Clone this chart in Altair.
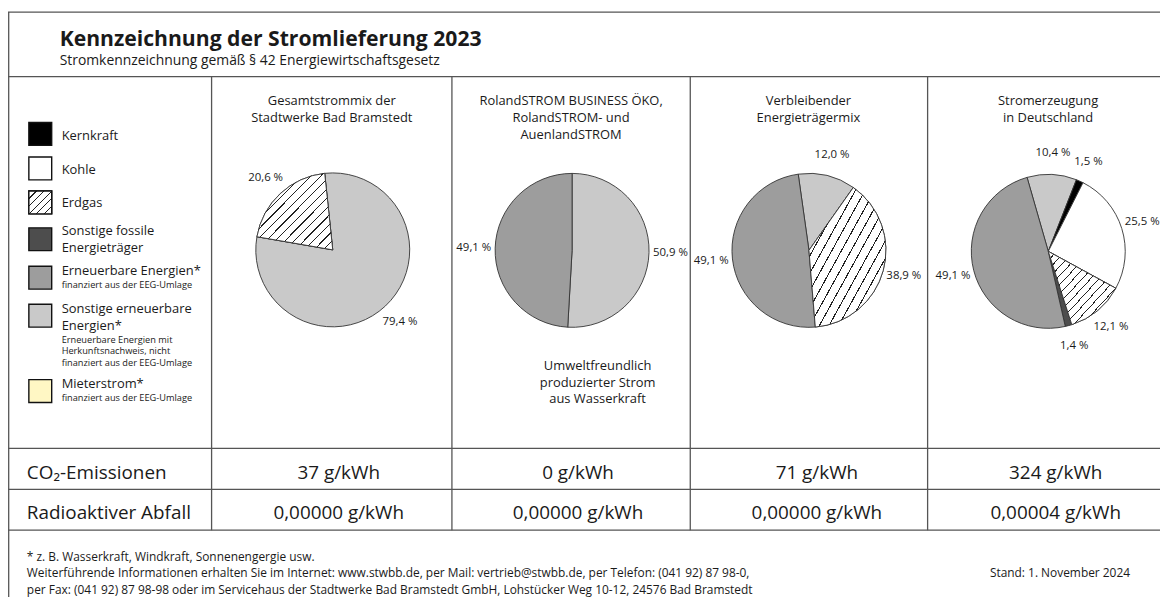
import math
import altair as alt
import pandas as pd

# ---------------- data ----------------
TITLE = "Kennzeichnung der Stromlieferung 2023"
SUBTITLE = "Stromkennzeichnung gemäß § 42 Energiewirtschaftsgesetz"

CATEGORIES = ["Kernkraft", "Kohle", "Erdgas", "Sonstige fossile Energieträger",
              "Erneuerbare Energien", "Sonstige erneuerbare Energien", "Mieterstrom"]
CAT_COLORS = ["#000000", "#ffffff", "#ffffff", "#4d4d4d", "#9d9d9d", "#c9c9c9", "#fff7c4"]

LEGEND_MAIN = [["Kernkraft"], ["Kohle"], ["Erdgas"], ["Sonstige fossile", "Energieträger"],
               ["Erneuerbare Energien*"], ["Sonstige erneuerbare", "Energien*"], ["Mieterstrom*"]]
LEGEND_SMALL = [[], [], [], [], ["finanziert aus der EEG-Umlage"],
                ["Erneuerbare Energien mit", "Herkunftsnachweis, nicht", "finanziert aus der EEG-Umlage"],
                ["finanziert aus der EEG-Umlage"]]

PIE_TITLES = [["Gesamtstrommix der", "Stadtwerke Bad Bramstedt"],
              ["RolandSTROM BUSINESS ÖKO,", "RolandSTROM- und", "AuenlandSTROM"],
              ["Verbleibender", "Energieträgermix"],
              ["Stromerzeugung", "in Deutschland"]]
PIE_CATS = [["Sonstige erneuerbare Energien", "Erdgas"],
            ["Sonstige erneuerbare Energien", "Erneuerbare Energien"],
            ["Sonstige erneuerbare Energien", "Erdgas", "Erneuerbare Energien"],
            ["Sonstige erneuerbare Energien", "Kernkraft", "Kohle", "Erdgas",
             "Sonstige fossile Energieträger", "Erneuerbare Energien"]]
PIE_SHARES = [[79.4, 20.6],
              [50.9, 49.1],
              [12.0, 38.9, 49.1],
              [10.4, 1.5, 25.5, 12.1, 1.4, 49.1]]
ROLAND_NOTE = ["Umweltfreundlich", "produzierter Strom", "aus Wasserkraft"]

ROW_LABELS = ["CO₂-Emissionen", "Radioaktiver Abfall"]
CO2 = [37, 0, 71, 324]
WASTE = [0.00000, 0.00000, 0.00000, 0.00004]

FOOTNOTES = ["* z. B. Wasserkraft, Windkraft, Sonnenengergie usw.",
             "Weiterführende Informationen erhalten Sie im Internet: www.stwbb.de, per Mail: vertrieb@stwbb.de, per Telefon: (041 92) 87 98-0,",
             "per Fax:  (041 92) 87 98-98 oder im Servicehaus der Stadtwerke Bad Bramstedt GmbH, Lohstücker Weg 10-12, 24576 Bad Bramstedt"]
STAND = "Stand: 1. November 2024"

# ---------------- layout ----------------
FONT = "Open Sans"
INK = "#1a1a1a"
W, H = 1160, 591
H_LINES = [2, 67, 441.3, 482.7, 523.7]
COL_LINES = [205, 447, 687, 926]
PIE_CX = [327, 568, 806.5, 1047.5]
PIE_CY = [241.5, 242, 242, 243]
PIE_R = 77.5
PIE_ROT = [-6, 0, -8, -16]          # start angle of each pie, degrees
LABEL_R = 99
HEAD_CX = [326, 567, 806, 1047.3]
HEAD_Y0, HEAD_DY = 96, 17
TABLE_CX = [333, 574, 814.5, 1055]
ROW_Y = [472, 512]
LEG_SQ_X = 32.5
LEG_SQ_Y = [124.8, 159.5, 193.7, 230.8, 269.5, 307.8, 383.7]
LEG_TXT_Y = [131, 165.3, 198.7, 227, 267, 305.3, 380.3]
LEG_TXT_X = 54

POS_X = lambda f: alt.X(f, type="quantitative", scale=None, axis=None)
POS_Y = lambda f: alt.Y(f, type="quantitative", scale=None, axis=None)
THETA = alt.Scale(domain=[0, 100], range=[0, 2 * math.pi], nice=False, zero=False)
COLOR = alt.Scale(domain=CATEGORIES, range=CAT_COLORS)


def hatch(n, lw, fg="#222222", bg="#ffffff"):
    stops = [alt.GradientStop(color=bg, offset=0)]
    for i in range(1, n):
        c = i / n
        a, b = c - lw / 2, c + lw / 2
        stops += [alt.GradientStop(color=bg, offset=a), alt.GradientStop(color=fg, offset=a),
                  alt.GradientStop(color=fg, offset=b), alt.GradientStop(color=bg, offset=b)]
    stops.append(alt.GradientStop(color=bg, offset=1))
    return alt.LinearGradient(gradient="linear", stops=stops, x1=0, y1=0, x2=1, y2=1)


def fmt_pct(v):
    return f"{v:.1f}".replace(".", ",") + " %"


# pie table
rows = []
for p, (cats, shares) in enumerate(zip(PIE_CATS, PIE_SHARES)):
    cum = PIE_ROT[p] / 360 * 100
    for c, v in zip(cats, shares):
        rows.append(dict(pie=p, cat=c, v=v, t0=cum, t1=cum + v, mid=cum + v / 2,
                         cx=PIE_CX[p], cy=PIE_CY[p], label=fmt_pct(v)))
        cum += v
pie_df = pd.DataFrame(rows)

arcs = alt.Chart(pie_df).mark_arc(outerRadius=PIE_R, stroke="#333333", strokeWidth=0.9).encode(
    x=POS_X("cx"), y=POS_Y("cy"),
    theta=alt.Theta("t0:Q", scale=THETA, stack=None), theta2="t1:Q",
    color=alt.Color("cat:N", scale=COLOR, legend=None))

hatched = alt.Chart(pie_df).transform_filter(alt.datum.cat == "Erdgas").mark_arc(
    outerRadius=PIE_R, fill=hatch(16, 0.008), stroke="#333333", strokeWidth=0.9).encode(
    x=POS_X("cx"), y=POS_Y("cy"),
    theta=alt.Theta("t0:Q", scale=THETA, stack=None), theta2="t1:Q")

labels = alt.Chart(pie_df).mark_text(radius=LABEL_R, font=FONT, fontSize=11.5, color=INK,
                                     align="center", baseline="middle").encode(
    x=POS_X("cx"), y=POS_Y("cy"),
    theta=alt.Theta("mid:Q", scale=THETA, stack=None), text="label:N")

# legend squares
leg_df = pd.DataFrame(dict(cat=CATEGORIES, lx=[LEG_SQ_X] * len(CATEGORIES), ly=LEG_SQ_Y))
leg_sq = alt.Chart(leg_df).mark_square(size=23 * 23, opacity=1, filled=True,
                                       stroke="#111111", strokeWidth=1.4).encode(
    x=POS_X("lx"), y=POS_Y("ly"), color=alt.Color("cat:N", scale=COLOR, legend=None))
leg_hatch = alt.Chart(leg_df).transform_filter(alt.datum.cat == "Erdgas").mark_square(
    size=23 * 23, opacity=1, fill=hatch(6, 0.025), stroke="#111111", strokeWidth=1.4).encode(
    x=POS_X("lx"), y=POS_Y("ly"))

# grid lines
hl = pd.DataFrame(dict(x=[0] * len(H_LINES), x2=[W] * len(H_LINES), y=H_LINES))
vl = pd.DataFrame(dict(x=[0.7] + COL_LINES, y=[2] + [67] * 4, y2=[H] + [523.7] * 4))
hrules = alt.Chart(hl).mark_rule(color="#555555", strokeWidth=1.3).encode(
    x=POS_X("x"), x2="x2:Q", y=POS_Y("y"))
vrules = alt.Chart(vl).mark_rule(color="#555555", strokeWidth=1.3).encode(
    x=POS_X("x"), y=POS_Y("y"), y2="y2:Q")


def texts(items, size, weight="normal", align="left"):
    df = pd.DataFrame(items, columns=["x", "y", "text"])
    return alt.Chart(df).mark_text(font=FONT, fontSize=size, fontWeight=weight, align=align,
                                   baseline="alphabetic", color=INK).encode(
        x=POS_X("x"), y=POS_Y("y"), text="text:N")


title = texts([(52, 36, TITLE)], 21.3, "bold")
subtitle = texts([(52, 55, SUBTITLE)], 14)

head_items = []
for i, lines in enumerate(PIE_TITLES):
    for j, t in enumerate(lines):
        head_items.append((HEAD_CX[i], HEAD_Y0 + j * HEAD_DY, t))
heads = texts(head_items, 13, align="center")

note = texts([(593.7, 362.7 + j * 16.7, t) for j, t in enumerate(ROLAND_NOTE)], 13, align="center")

leg_main_items, leg_small_items = [], []
for i in range(len(CATEGORIES)):
    y = LEG_TXT_Y[i]
    for t in LEGEND_MAIN[i]:
        leg_main_items.append((LEG_TXT_X, y, t))
        y += 16.7
    y = y - 16.7 + 13.3
    for t in LEGEND_SMALL[i]:
        leg_small_items.append((LEG_TXT_X, y, t))
        y += 11.4
leg_main = texts(leg_main_items, 13)
leg_small = texts(leg_small_items, 9.3)

row_labels = texts([(19, ROW_Y[k], t) for k, t in enumerate(ROW_LABELS)], 19)
vals = [(TABLE_CX[i], ROW_Y[0], f"{v} g/kWh") for i, v in enumerate(CO2)] + \
       [(TABLE_CX[i], ROW_Y[1], f"{v:.5f}".replace(".", ",") + " g/kWh") for i, v in enumerate(WASTE)]
values = texts(vals, 19, align="center")

foot = texts([(19, 554.7 + j * 16.5, t) for j, t in enumerate(FOOTNOTES)], 12)
stand = texts([(988.7, 571.2, STAND)], 12)

chart = alt.layer(
    hrules, vrules, arcs, hatched, labels, leg_sq, leg_hatch,
    title, subtitle, heads, note, leg_main, leg_small, row_labels, values, foot, stand
).properties(
    width=W, height=H, padding=0, autosize=alt.AutoSizeParams(type="none"), background="white"
).configure_view(stroke=None)

chart.save("out.html", embed_options={"renderer": "svg", "actions": False})
